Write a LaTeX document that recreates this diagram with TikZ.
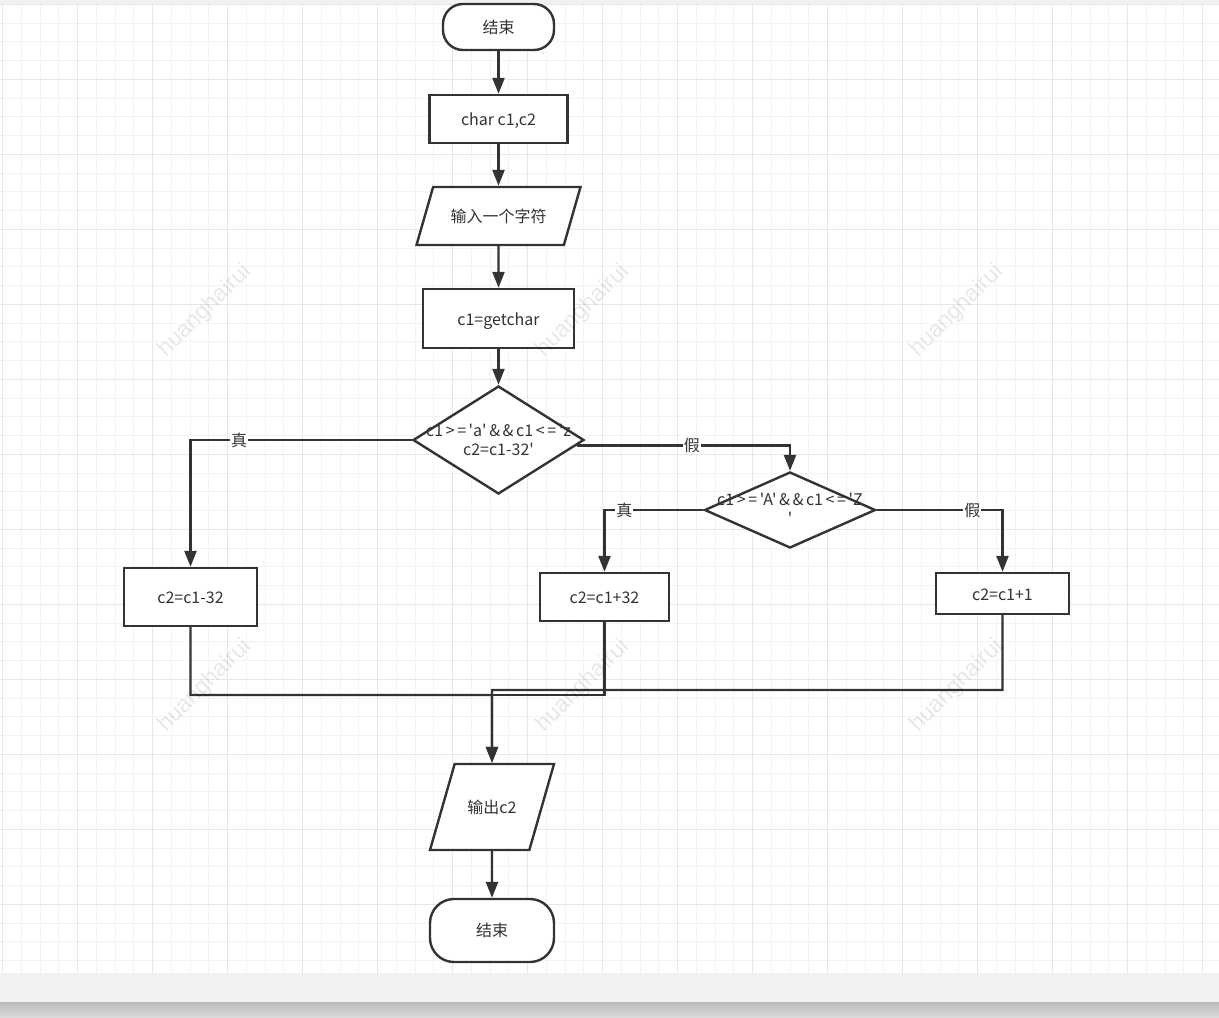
\documentclass[tikz,border=0pt]{standalone}
\usepackage{fontspec}
\usepackage{xcolor}
\usepackage{tikz}
\usetikzlibrary{arrows.meta, shapes.geometric, calc}
\newfontfamily\cjk{Noto Sans CJK SC}
\newfontfamily\wmfont{Liberation Sans}
\newcommand{\opgap}{\kern2.6pt}
\definecolor{ink}{HTML}{333333}
\definecolor{gridminor}{HTML}{F3F3F3}
\definecolor{gridmajor}{HTML}{E7E7E7}
\definecolor{panel}{HTML}{F1F1F1}
\definecolor{shadowtop}{HTML}{B9B9BC}
\definecolor{shadowbot}{HTML}{DCDCDF}

\begin{document}
\begin{tikzpicture}[x=1pt, y=-1pt,
    base/.style={draw=ink, line width=2.4pt, fill=white, text=ink,
                 font=\cjk\fontsize{16}{19}\selectfont, inner sep=0pt},
    term/.style={base, rectangle, rounded corners=#1},
    proc/.style={base, rectangle, text height=14pt, text depth=1pt},
    io/.style={base, trapezium, trapezium left angle=74, trapezium right angle=106,
               trapezium stretches body, text height=13pt, text depth=1pt,
               inner xsep=2pt, inner ysep=#1},
    decide/.style={base, diamond},
    cond/.style={text=ink, font=\cjk\fontsize{16}{19}\selectfont, align=center, inner sep=0pt},
    lbl/.style={fill=white, text=ink, font=\cjk\fontsize{16}{19}\selectfont, inner sep=1pt},
    line/.style={draw=ink, line width=2.4pt},
    flow/.style={line, -{Triangle[length=16pt, width=12pt]}},
    wmark/.style={rotate=45, text=black, text opacity=0.09,
                  font=\wmfont\fontsize{23}{23}\selectfont}]
  % ================================================================
  % canvas: grid paper and window frame
  % ================================================================
  \useasboundingbox (0,0) rectangle (1219,1018);
  \fill[white] (0,0) rectangle (1219,1018);
  \fill[panel] (0,0) rectangle (1219,4);
  \foreach \k in {0,...,64}
    \draw[gridminor, line width=1pt] ({2.7+18.75*\k},4) -- ({2.7+18.75*\k},973);
  \foreach \k in {0,...,51}
    \draw[gridminor, line width=1pt] (0,{4.3+18.75*\k}) -- (1219,{4.3+18.75*\k});
  \foreach \k in {0,...,16}
    \draw[gridmajor, line width=1pt] ({2.7+75*\k},4) -- ({2.7+75*\k},973);
  \foreach \k in {0,...,12}
    \draw[gridmajor, line width=1pt] (0,{4.3+75*\k}) -- (1219,{4.3+75*\k});
  \fill[panel] (0,973) rectangle (1219,1002);
  \shade[top color=shadowtop, bottom color=shadowbot] (0,1002) rectangle (1219,1018);
  % ================================================================
  % flowchart nodes
  % ================================================================
  \node[term=20pt, minimum width=111pt, minimum height=46pt] (start) at (498.5,27) {结束};
  \node[proc, minimum width=138pt, minimum height=48pt] (decl) at (498.5,119) {char c1,c2};
  \node[io=22pt, minimum width=164pt] (in) at (498.5,216) {输入一个字符};
  \node[proc, minimum width=151pt, minimum height=59pt] (get) at (498.5,318.5) {c1=getchar};
  \node[decide, minimum width=171pt, minimum height=108pt] (d1) at (498.5,440) {};
  \node[cond] (d1t) at (d1)
    {c1\opgap>\opgap=\opgap'a'\opgap\&\opgap\&\opgap c1\opgap<\opgap=\opgap'z\\c2=c1-32'};
  \node[decide, minimum width=171pt, minimum height=76pt] (d2) at (790,510) {};
  \node[cond] (d2t) at (790,509)
    {c1\opgap>\opgap=\opgap'A'\opgap\&\opgap\&\opgap c1\opgap<\opgap=\opgap'Z\\'};
  \node[proc, minimum width=133pt, minimum height=58pt] (lower) at (190.5,597) {c2=c1-32};
  \node[proc, minimum width=129pt, minimum height=48pt] (upper) at (604.5,597) {c2=c1+32};
  \node[proc, minimum width=133pt, minimum height=41pt] (other) at (1002.5,593.5) {c2=c1+1};
  \node[io=36pt, minimum width=124pt] (out) at (492,807) {输出c2};
  \node[term=24pt, minimum width=124pt, minimum height=63pt] (stop) at (492,930.5) {结束};
  % ================================================================
  % connectors
  % ================================================================
  \draw[flow] (start) -- (decl);
  \draw[flow] (decl) -- (in);
  \draw[flow] (in) -- (get);
  \draw[flow] (get) -- (d1);
  \draw[flow] (d1.west) -| node[lbl, pos=0.39] (t1) {真} (lower.north);
  \draw[flow] ($(d1.east)!0.1!(d1.south)$) -| node[lbl, pos=0.27] (f1) {假} (d2.north);
  \draw[flow] (d2.west) -| node[lbl, pos=0.40] (t2) {真} (upper.north);
  \draw[flow] (d2.east) -| node[lbl, pos=0.38] (f2) {假} (other.north);
  \coordinate (j1) at (492,695);
  \coordinate (j2) at (492,690);
  \draw[line] (upper.south) |- (j1);
  \draw[flow] (lower.south) |- (j1) -- (out.north);
  \draw[flow] (other.south) |- (j2) -- (out.north);
  \draw[flow] (out) -- (stop);
  % ================================================================
  % watermark
  % ================================================================
  \foreach \wx in {205,583,957}
    \foreach \wy in {311,686}
      \node[wmark] (wm\wx\wy) at (\wx,\wy) {huanghairui};
\end{tikzpicture}
\end{document}
